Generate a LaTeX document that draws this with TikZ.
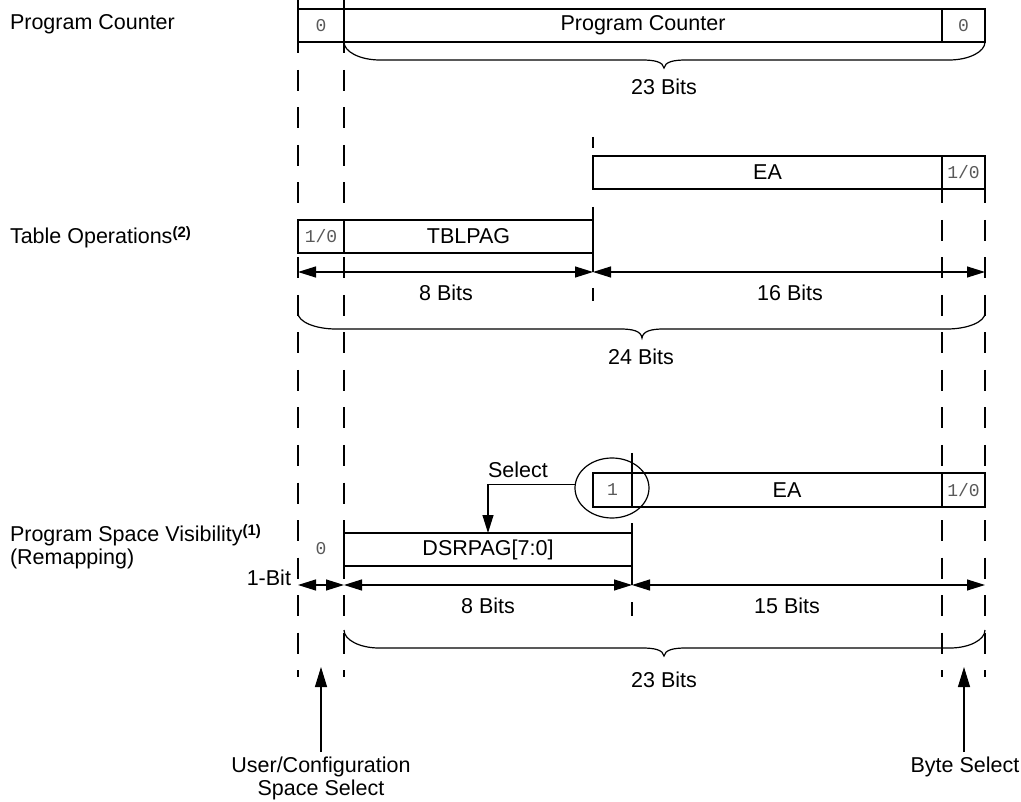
\documentclass[tikz,border=0pt]{standalone}
\usepackage{fontspec}
\setmainfont{Liberation Sans}
\newfontfamily\monof{Liberation Mono}
\usetikzlibrary{arrows.meta,shapes.geometric}
\newcommand\lblf{\fontsize{21.5}{23}\selectfont}
\newcommand\supf{\fontsize{15}{15}\selectfont\bfseries}
% horizontal brace: x1,x2,yend,ybar,xtip,ytip,rx
\newcommand\hbrace[7]{%
 \draw[bracel] (#1,#3) .. controls (#1,{#3+0.55*(#4-#3)}) and ({#1+0.45*#7},#4) .. ({#1+#7},#4)
   -- ({#5-22},#4) .. controls ({#5-9},#4) and ({#5-1},{#4+2}) .. (#5,#6)
   .. controls ({#5+1},{#4+2}) and ({#5+9},#4) .. ({#5+22},#4)
   -- ({#2-#7},#4) .. controls ({#2-0.45*#7},#4) and (#2,{#3+0.55*(#4-#3)}) .. (#2,#3);}
\begin{document}
\begin{tikzpicture}[x=1pt,y=-1pt,
  every node/.style={inner sep=0pt, outer sep=0pt},
  box/.style={draw, fill=white, line width=1.2pt, minimum height=33pt, font=\lblf},
  bitbox/.style={box, text=black!65, font=\monof\fontsize{18}{18}\selectfont},
  bitx/.style={text=black!65, font=\monof\fontsize{18}{18}\selectfont},
  lbl/.style={font=\lblf},
  guide/.style={line width=1.2pt, dash pattern=on 21pt off 16.5pt},
  solidln/.style={line width=1.2pt},
  dim/.style={line width=1.2pt, {Triangle[length=18pt,width=11pt]}-{Triangle[length=18pt,width=11pt]}},
  uparrow/.style={line width=1.2pt, -{Triangle[length=20pt,width=12pt]}},
  bracel/.style={line width=1.2pt}
]
\useasboundingbox (0,0) rectangle (1021,802);

% dashed guide lines
\begin{scope}
\clip (0,0) rectangle (1021,802);
\draw[guide] (298,-5) -- (298,677);
\draw[guide] (344,-5) -- (344,677);
\draw[guide] (942,182.5) -- (942,677);
\draw[guide] (985,182.5) -- (985,677);
\end{scope}

% Program counter row
\node[bitbox, minimum width=46pt] (pcz) at (321,25.5) {0};
\node[box, minimum width=598pt] (pc) at (643,25.5) {Program Counter};
\node[bitbox, minimum width=43pt] (pcb) at (963.5,25.5) {0};

% Table operations rows
\node[box, minimum width=349pt] (ea) at (767.5,172.5) {EA};
\node[bitbox, minimum width=43pt] (eab) at (963.5,172.5) {1/0};
\node[bitbox, minimum width=46pt] (tbz) at (321,236.5) {1/0};
\node[box, minimum width=249pt] (tbl) at (468.5,236.5) {TBLPAG};

% PSV rows
\node[bitbox, minimum width=39pt, minimum height=34pt] (one) at (612.5,490) {1};
\node[box, minimum width=310pt, minimum height=34pt] (ea2) at (787,490) {EA};
\node[bitbox, minimum width=43pt, minimum height=34pt] (eab2) at (963.5,490) {1/0};
\node[box, minimum width=288pt] (dsr) at (488,549.5) {DSRPAG[7:0]};
\node[bitx] (rz) at (321,549) {0};

% extension lines
\draw[solidln] (593,137) -- (593,148);
\draw[solidln] (593,207) -- (593,272);
\draw[solidln] (593,288) -- (593,301);
\draw[solidln] (632,453) -- (632,473);
\draw[solidln] (632,523) -- (632,585);
\draw[solidln] (632,602) -- (632,616);

% dimension arrows
\coordinate (d1a) at (298,272);
\coordinate (d1b) at (593,272);
\coordinate (d1c) at (985,272);
\draw[dim] (d1a) -- (d1b);
\draw[dim] (d1b) -- (d1c);
\coordinate (d2a) at (298,585);
\coordinate (d2b) at (344,585);
\coordinate (d2c) at (632,585);
\coordinate (d2d) at (985,585);
\draw[dim] (d2a) -- (d2b);
\draw[dim] (d2b) -- (d2c);
\draw[dim] (d2c) -- (d2d);

% braces
\hbrace{344}{985}{42}{60}{664}{68}{36}
\hbrace{298}{985}{313}{329}{642}{338}{38}
\hbrace{344}{985}{630}{648}{664}{656}{35}

% select circle and arrow
\node[draw, ellipse, line width=1.2pt, minimum width=74pt, minimum height=60pt] (sel) at (612,488) {};
\draw[solidln, -{Triangle[length=18pt,width=11pt]}] (sel.174) -| (dsr.north);
\node[lbl] (seltxt) at (518,470) {Select};

% labels
\node[lbl, anchor=west] (lpc) at (10,24) {Program Counter};
\node[lbl, anchor=west] (lto) at (10,237) {Table Operations\raisebox{6pt}{\supf(2)}};
\node[lbl, anchor=west, align=left] (lpsv) at (10,547) {Program Space Visibility\raisebox{6pt}{\supf(1)}\\(Remapping)};
\node[lbl, anchor=east] (onebit) at (291,578) {1-Bit};

\node[lbl] (b8a) at (446,293) {8 Bits};
\node[lbl] (b16) at (790,293) {16 Bits};
\node[lbl] (b24) at (641,357) {24 Bits};
\node[lbl] (b23a) at (664,87) {23 Bits};
\node[lbl] (b8b) at (488,606) {8 Bits};
\node[lbl] (b15) at (787,606) {15 Bits};
\node[lbl] (b23b) at (664,680) {23 Bits};

% bottom arrows
\node[lbl, align=center] (ucs) at (321,778) {User/Configuration\\Space Select};
\node[lbl] (bys) at (965,767) {Byte Select};
\coordinate (ua1) at (321,667);
\coordinate (ub1) at (964,667);
\draw[uparrow] (321,752) -- (ua1);
\draw[uparrow] (964,752) -- (ub1);
\end{tikzpicture}
\end{document}
